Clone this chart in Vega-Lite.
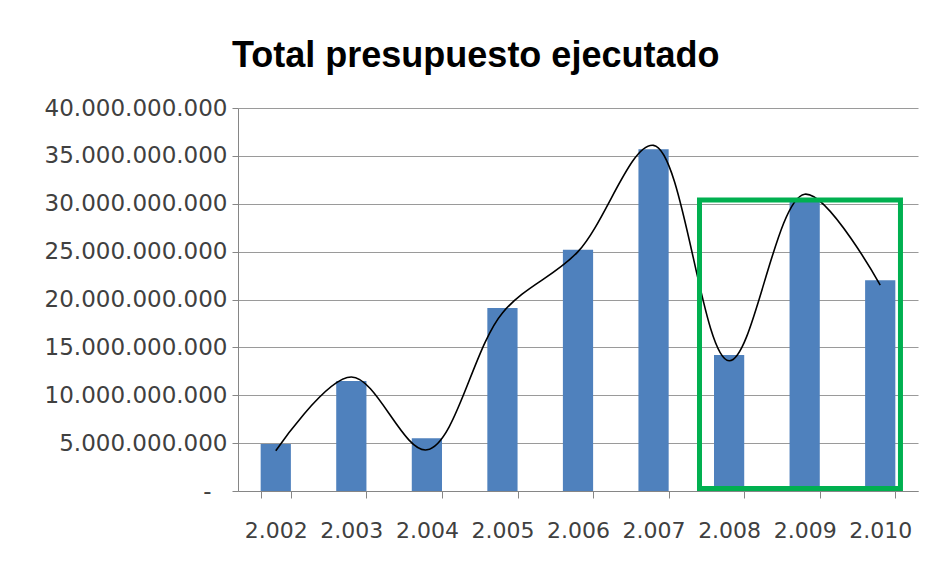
{
  "$schema": "https://vega.github.io/schema/vega-lite/v6.json",
  "width": 680,
  "height": 383,
  "autosize": {"type": "none"},
  "padding": {"left": 238, "top": 108, "right": 17, "bottom": 76},
  "background": "white",
  "config": {
    "locale": {"number": {"decimal": ",", "thousands": ".", "grouping": [3], "currency": ["$", ""]}},
    "view": {"stroke": null},
    "font": "DejaVu Sans"
  },
  "title": {
    "text": "Total presupuesto ejecutado",
    "font": "Liberation Sans",
    "fontSize": 36,
    "fontWeight": "bold",
    "color": "#000000",
    "anchor": "start",
    "frame": "group",
    "dx": -6,
    "offset": 22
  },
  "data": {
    "values": [
      {"anio": "2.002", "valor": 4900000000, "curva": 4200000000},
      {"anio": "2.003", "valor": 11500000000, "curva": 11900000000},
      {"anio": "2.004", "valor": 5500000000, "curva": 4300000000},
      {"anio": "2.005", "valor": 19100000000, "curva": 18600000000},
      {"anio": "2.006", "valor": 25200000000, "curva": 25000000000},
      {"anio": "2.007", "valor": 35700000000, "curva": 36100000000},
      {"anio": "2.008", "valor": 14200000000, "curva": 13600000000},
      {"anio": "2.009", "valor": 30200000000, "curva": 31000000000},
      {"anio": "2.010", "valor": 22000000000, "curva": 21500000000}
    ]
  },
  "encoding": {
    "x": {
      "field": "anio",
      "type": "nominal",
      "sort": null,
      "scale": {"paddingInner": 0.6, "paddingOuter": 0.3},
      "axis": {
        "title": null,
        "labelAngle": 0,
        "labelFont": "DejaVu Sans",
        "labelFontSize": 22,
        "labelColor": "#404040",
        "labelPadding": 22,
        "tickBand": "extent",
        "tickSize": 7,
        "tickColor": "#868686",
        "domainColor": "#868686",
        "grid": false
      }
    }
  },
  "layer": [
    {
      "mark": {"type": "bar", "color": "#4f81bd"},
      "encoding": {
        "y": {
          "field": "valor",
          "type": "quantitative",
          "scale": {"domain": [0, 40000000000], "nice": false},
          "axis": {
            "title": null,
            "values": [0, 5000000000, 10000000000, 15000000000, 20000000000, 25000000000, 30000000000, 35000000000, 40000000000],
            "format": ",d",
            "labelExpr": "datum.value == 0 ? '-' : datum.label",
            "labelFont": "DejaVu Sans",
            "labelFontSize": 23,
            "labelColor": "#404040",
            "labelLimit": 400,
            "labelPadding": {"condition": {"test": "datum.value == 0", "value": 21}, "value": 5},
            "tickSize": 6,
            "tickColor": "#868686",
            "domainColor": "#868686",
            "grid": true,
            "gridColor": "#9a9a9a",
            "gridWidth": 1.2
          }
        }
      }
    },
    {
      "mark": {"type": "line", "interpolate": "catmull-rom", "color": "#000000", "strokeWidth": 1.6},
      "encoding": {
        "y": {"field": "curva", "type": "quantitative"}
      }
    },
    {
      "data": {"values": [{"desde": "2.008", "hasta": "2.010", "tope": 30400000000, "base": 250000000}]},
      "mark": {"type": "rect", "filled": false, "stroke": "#00b050", "strokeWidth": 5},
      "encoding": {
        "x": {"field": "desde", "type": "nominal", "bandPosition": -0.48},
        "x2": {"field": "hasta", "bandPosition": 1.17},
        "y": {"field": "tope", "type": "quantitative"},
        "y2": {"field": "base"}
      }
    }
  ]
}
